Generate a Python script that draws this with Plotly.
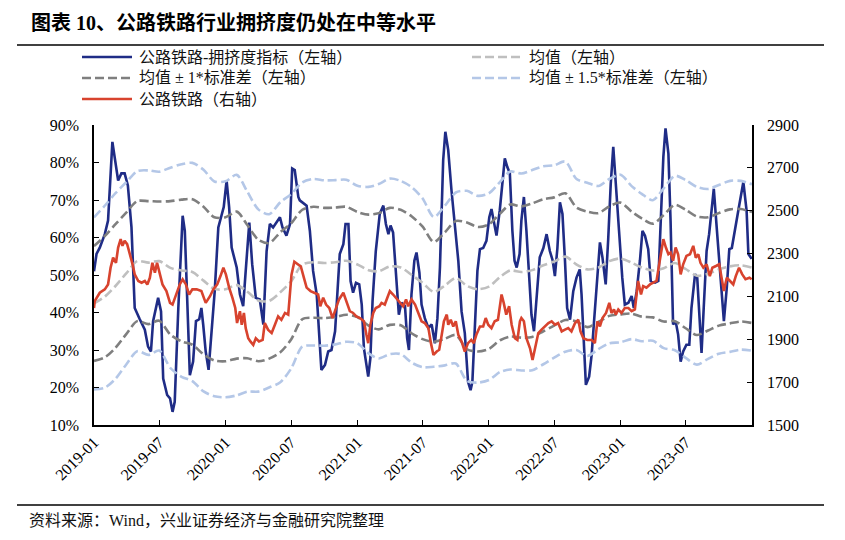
import pandas as pd
import plotly.graph_objects as go

# 公路铁路-拥挤度指标（左轴，%），按周
blue_dates = [
    "2019-01-01", "2019-01-08", "2019-01-17", "2019-01-31", "2019-02-09", "2019-02-21", "2019-03-09",
    "2019-03-18", "2019-03-27", "2019-04-05", "2019-04-15", "2019-04-24", "2019-05-08", "2019-05-22",
    "2019-05-31", "2019-06-08", "2019-06-14", "2019-06-22", "2019-06-28", "2019-07-06", "2019-07-12",
    "2019-07-23", "2019-07-31", "2019-08-07", "2019-08-13", "2019-08-23", "2019-08-29", "2019-09-04",
    "2019-09-10", "2019-09-17", "2019-09-24", "2019-10-03", "2019-10-11", "2019-10-20", "2019-10-26",
    "2019-10-31", "2019-11-07", "2019-11-15", "2019-11-23", "2019-12-02", "2019-12-12", "2019-12-21",
    "2019-12-27", "2020-01-04", "2020-01-11", "2020-01-18", "2020-02-01", "2020-02-10", "2020-02-19",
    "2020-02-26", "2020-03-07", "2020-03-15", "2020-03-25", "2020-04-05", "2020-04-15", "2020-04-24",
    "2020-05-03", "2020-05-12", "2020-05-22", "2020-05-31", "2020-06-07", "2020-06-18", "2020-06-28",
    "2020-07-04", "2020-07-11", "2020-07-21", "2020-07-25", "2020-08-13", "2020-08-22", "2020-08-31",
    "2020-09-10", "2020-09-17", "2020-09-23", "2020-10-03", "2020-10-12", "2020-10-21", "2020-10-31",
    "2020-11-09", "2020-11-13", "2020-11-23", "2020-11-29", "2020-12-07", "2020-12-13", "2020-12-20",
    "2020-12-28", "2021-01-06", "2021-01-13", "2021-01-19", "2021-01-25", "2021-01-31", "2021-02-06",
    "2021-02-12", "2021-02-21", "2021-03-04", "2021-03-14", "2021-03-21", "2021-03-28", "2021-04-03",
    "2021-04-10", "2021-04-20", "2021-04-26", "2021-05-03", "2021-05-13", "2021-05-19", "2021-05-24",
    "2021-05-31", "2021-06-08", "2021-06-14", "2021-06-22", "2021-06-28", "2021-07-07", "2021-07-17",
    "2021-07-26", "2021-08-04", "2021-08-11", "2021-08-18", "2021-08-27", "2021-09-02", "2021-09-10",
    "2021-09-19", "2021-09-29", "2021-10-08", "2021-10-17", "2021-10-26", "2021-11-04", "2021-11-11",
    "2021-11-16", "2021-11-23", "2021-11-30", "2021-12-07", "2021-12-16", "2021-12-25", "2022-01-02",
    "2022-01-08", "2022-01-15", "2022-01-22", "2022-01-31", "2022-02-08", "2022-02-14", "2022-02-21",
    "2022-02-28", "2022-03-07", "2022-03-13", "2022-03-19", "2022-03-27", "2022-04-01", "2022-04-08",
    "2022-04-15", "2022-04-23", "2022-04-29", "2022-05-06", "2022-05-13", "2022-05-22", "2022-06-01",
    "2022-06-10", "2022-06-19", "2022-06-27", "2022-07-03", "2022-07-10", "2022-07-17", "2022-07-24",
    "2022-07-31", "2022-08-06", "2022-08-14", "2022-08-23", "2022-09-01", "2022-09-10", "2022-09-15",
    "2022-09-20", "2022-09-27", "2022-10-06", "2022-10-13", "2022-10-19", "2022-10-29", "2022-11-05",
    "2022-11-12", "2022-11-21", "2022-11-28", "2022-12-05", "2022-12-12", "2022-12-19", "2022-12-28",
    "2023-01-06", "2023-01-13", "2023-01-23", "2023-02-01", "2023-02-07", "2023-02-15", "2023-02-24",
    "2023-03-03", "2023-03-10", "2023-03-19", "2023-03-26", "2023-04-07", "2023-04-16", "2023-04-22",
    "2023-04-30", "2023-05-06", "2023-05-14", "2023-05-20", "2023-05-27", "2023-06-03", "2023-06-10",
    "2023-06-17", "2023-06-24", "2023-07-03", "2023-07-11", "2023-07-17", "2023-07-27", "2023-08-02",
    "2023-08-09", "2023-08-14", "2023-08-20", "2023-08-28", "2023-09-04", "2023-09-11", "2023-09-17",
    "2023-09-25", "2023-10-04", "2023-10-15", "2023-10-23", "2023-10-30", "2023-11-06", "2023-11-15",
    "2023-11-24", "2023-12-08", "2023-12-17", "2023-12-22", "2023-12-31",
]
blue_values = [
    51.0, 55.6, 57.3, 60.9, 64.5, 85.5, 75.2,
    77.1, 77.1, 73.9, 62.7, 41.2, 38.2, 35.4,
    30.9, 29.6, 37.7, 41.2, 43.9, 40.3, 22.4,
    18.0, 17.1, 13.5, 16.2, 41.2, 52.9, 65.8,
    61.8, 44.8, 23.3, 26.9, 37.7, 38.2, 41.2,
    36.8, 29.6, 24.7, 34.1, 45.7, 62.7, 65.8,
    68.1, 75.2, 68.1, 57.3, 52.0, 44.8, 41.7,
    51.1, 64.0, 52.9, 43.9, 43.5, 36.8, 56.4,
    63.6, 62.7, 64.0, 65.4, 62.7, 60.5, 63.6,
    78.4, 78.0, 70.8, 69.9, 68.5, 61.8, 51.1,
    44.8, 34.1, 24.7, 26.0, 29.6, 30.0, 35.0,
    49.3, 55.6, 58.2, 63.6, 63.6, 48.4, 45.3,
    47.9, 47.5, 42.1, 30.5, 26.0, 22.9, 27.8,
    43.0, 56.4, 66.3, 68.5, 63.6, 60.9, 63.2,
    61.3, 48.4, 39.4, 42.6, 41.7, 33.2, 30.0,
    44.8, 53.8, 56.0, 50.6, 42.1, 38.5, 35.9,
    36.8, 31.8, 38.5, 52.0, 80.6, 88.2, 83.3,
    72.6, 62.7, 53.8, 40.3, 34.5, 21.5, 19.3,
    21.5, 38.5, 51.1, 56.9, 57.2, 59.1, 65.4,
    67.6, 63.6, 60.5, 67.2, 75.2, 81.1, 78.8,
    77.1, 61.8, 53.8, 52.0, 55.6, 64.5, 70.8,
    61.8, 48.4, 39.4, 35.0, 44.8, 54.7, 57.2,
    60.9, 56.4, 53.8, 49.7, 57.2, 69.4, 66.3,
    53.8, 41.2, 38.1, 45.7, 49.3, 51.5, 44.8,
    33.2, 20.7, 22.9, 28.7, 36.8, 48.4, 58.7,
    54.7, 47.5, 59.6, 74.3, 84.2, 75.2, 61.8,
    49.3, 42.1, 42.6, 44.4, 41.2, 45.7, 53.8,
    61.8, 60.5, 56.9, 48.4, 48.0, 48.4, 63.6,
    81.5, 89.1, 82.4, 64.5, 36.8, 37.7, 34.1,
    26.9, 29.6, 31.4, 31.4, 41.2, 50.2, 49.3,
    35.9, 29.2, 41.2, 56.4, 60.9, 67.2, 73.0,
    62.7, 52.0, 37.7, 46.6, 56.9, 57.2, 62.7,
    67.2, 74.8, 67.2, 55.6, 54.3,
]

# 公路铁路（右轴）
red_dates = [
    "2019-01-01", "2019-01-03", "2019-01-17", "2019-01-31", "2019-02-09", "2019-02-16", "2019-02-23",
    "2019-03-03", "2019-03-09", "2019-03-16", "2019-03-21", "2019-03-27", "2019-04-03", "2019-04-10",
    "2019-04-18", "2019-04-24", "2019-05-04", "2019-05-13", "2019-05-22", "2019-05-29", "2019-06-05",
    "2019-06-12", "2019-06-19", "2019-06-25", "2019-07-03", "2019-07-10", "2019-07-21", "2019-07-31",
    "2019-08-07", "2019-08-16", "2019-08-27", "2019-09-04", "2019-09-13", "2019-09-22", "2019-10-01",
    "2019-10-13", "2019-10-26", "2019-11-07", "2019-11-19", "2019-11-28", "2019-12-09", "2019-12-18",
    "2019-12-26", "2020-01-02", "2020-01-11", "2020-01-20", "2020-01-28", "2020-02-02", "2020-02-10",
    "2020-02-15", "2020-02-21", "2020-02-26", "2020-03-04", "2020-03-10", "2020-03-18", "2020-03-25",
    "2020-04-03", "2020-04-13", "2020-04-19", "2020-04-28", "2020-05-08", "2020-05-17", "2020-05-26",
    "2020-06-04", "2020-06-14", "2020-06-23", "2020-07-02", "2020-07-10", "2020-07-20", "2020-07-28",
    "2020-08-05", "2020-08-13", "2020-08-24", "2020-09-05", "2020-09-14", "2020-09-20", "2020-09-28",
    "2020-10-06", "2020-10-15", "2020-10-24", "2020-11-02", "2020-11-11", "2020-11-23", "2020-12-02",
    "2020-12-11", "2020-12-20", "2020-12-29", "2021-01-08", "2021-01-19", "2021-01-26", "2021-01-31",
    "2021-02-06", "2021-02-14", "2021-02-21", "2021-03-03", "2021-03-09", "2021-03-18", "2021-03-25",
    "2021-04-01", "2021-04-10", "2021-04-21", "2021-04-29", "2021-05-08", "2021-05-16", "2021-05-22",
    "2021-05-31", "2021-06-10", "2021-06-19", "2021-06-28", "2021-07-07", "2021-07-17", "2021-07-24",
    "2021-07-31", "2021-08-09", "2021-08-16", "2021-08-23", "2021-08-29", "2021-09-06", "2021-09-10",
    "2021-09-17", "2021-09-24", "2021-10-01", "2021-10-08", "2021-10-17", "2021-10-26", "2021-11-04",
    "2021-11-13", "2021-11-20", "2021-11-27", "2021-12-07", "2021-12-16", "2021-12-23", "2021-12-30",
    "2022-01-08", "2022-01-17", "2022-01-26", "2022-02-05", "2022-02-11", "2022-02-18", "2022-02-26",
    "2022-03-05", "2022-03-14", "2022-03-21", "2022-03-28", "2022-04-01", "2022-04-08", "2022-04-15",
    "2022-04-25", "2022-05-02", "2022-05-09", "2022-05-18", "2022-05-27", "2022-06-05", "2022-06-15",
    "2022-06-24", "2022-07-03", "2022-07-12", "2022-07-22", "2022-07-31", "2022-08-09", "2022-08-18",
    "2022-08-28", "2022-09-06", "2022-09-12", "2022-09-20", "2022-10-01", "2022-10-13", "2022-10-22",
    "2022-10-29", "2022-11-05", "2022-11-12", "2022-11-22", "2022-12-01", "2022-12-07", "2022-12-14",
    "2022-12-19", "2022-12-26", "2023-01-04", "2023-01-13", "2023-01-23", "2023-02-01", "2023-02-10",
    "2023-02-19", "2023-02-27", "2023-03-05", "2023-03-14", "2023-03-24", "2023-04-02", "2023-04-11",
    "2023-04-20", "2023-04-30", "2023-05-07", "2023-05-14", "2023-05-20", "2023-05-27", "2023-06-03",
    "2023-06-10", "2023-06-17", "2023-06-24", "2023-07-03", "2023-07-13", "2023-07-22", "2023-07-29",
    "2023-08-05", "2023-08-11", "2023-08-19", "2023-08-28", "2023-09-06", "2023-09-13", "2023-09-23",
    "2023-10-02", "2023-10-15", "2023-10-23", "2023-11-01", "2023-11-10", "2023-11-17", "2023-11-26",
    "2023-12-05", "2023-12-14", "2023-12-25", "2023-12-31",
]
red_values = [
    2046, 2078, 2117, 2133, 2156, 2234, 2281,
    2257, 2328, 2367, 2336, 2360, 2344, 2305,
    2250, 2203, 2172, 2164, 2172, 2156, 2187,
    2257, 2211, 2257, 2195, 2156, 2125, 2070,
    2062, 2109, 2156, 2180, 2156, 2109, 2133,
    2133, 2125, 2070, 2101, 2133, 2156, 2195,
    2234, 2203, 2141, 2094, 2046, 1976, 2031,
    1968, 2023, 1952, 1905, 1890, 1874, 1905,
    1890, 1897, 1976, 1945, 1929, 1968, 2007,
    1991, 2023, 2015, 2200, 2262, 2250, 2240,
    2190, 2141, 2125, 2117, 2109, 2054, 2094,
    2062, 2046, 1999, 2046, 2086, 2117, 2070,
    2031, 2023, 2007, 1999, 1984, 1921, 1882,
    1968, 2023, 2046, 2054, 2070, 2062, 2094,
    2125, 2109, 2086, 2070, 2054, 2086, 2054,
    2086, 2062, 2023, 1984, 1976, 1952, 1882,
    1827, 1843, 1851, 1921, 1984, 2015, 1968,
    1991, 1960, 1984, 1921, 1890, 1843, 1882,
    1897, 1882, 1921, 1960, 1960, 1999, 1968,
    1952, 1984, 1991, 2109, 2070, 2015, 2054,
    1968, 1905, 1897, 1984, 1999, 1984, 1905,
    1858, 1804, 1858, 1929, 1945, 1960, 1976,
    1984, 1968, 1976, 1937, 1945, 1952, 1937,
    1976, 1991, 1937, 1905, 1897, 1897, 1882,
    1984, 1960, 1999, 2023, 2070, 2023, 2039,
    2015, 2039, 2023, 2046, 2046, 2031, 2039,
    2172, 2109, 2148, 2141, 2156, 2164, 2172,
    2266, 2367, 2328, 2297, 2305, 2266, 2328,
    2297, 2203, 2250, 2289, 2297, 2336, 2281,
    2297, 2257, 2234, 2250, 2195, 2234, 2242,
    2250, 2125, 2187, 2172, 2156, 2195, 2234,
    2203, 2180, 2187, 2180,
]

# 均值与标准差（左轴，%），按月
band_months = pd.date_range("2019-01-01", "2024-01-01", freq="MS")
mean_values = [
    42.4, 44.3, 47.0, 50.5, 53.7, 53.3, 53.7, 51.9, 51.2, 50.8, 48.5, 46.3,
    46.2, 47.3, 45.6, 43.2, 43.1, 45.4, 48.3, 52.8, 53.4, 53.2, 53.4, 53.8,
    52.8, 51.3, 51.0, 52.3, 52.0, 50.0, 47.9, 45.5, 47.2, 49.2, 47.1, 46.2,
    46.9, 49.5, 51.2, 50.8, 51.3, 52.6, 53.6, 54.9, 52.8, 51.5, 52.0, 53.7,
    54.4, 53.3, 52.0, 51.2, 51.8, 53.2, 51.6, 49.8, 50.3, 51.5, 52.3, 52.6,
    52.0,
]
std_values = [
    15.3, 16.2, 16.5, 16.2, 16.0, 16.4, 15.9, 17.8, 18.9, 19.4, 19.7, 19.1,
    19.2, 19.6, 17.8, 16.2, 15.4, 16.0, 15.5, 14.6, 14.8, 14.7, 14.6, 14.4,
    14.0, 14.8, 15.5, 15.6, 15.4, 15.6, 15.0, 13.3, 14.2, 15.2, 16.9, 16.6,
    16.6, 16.9, 17.6, 17.5, 17.8, 17.6, 17.1, 16.9, 15.2, 15.4, 14.5, 14.6,
    14.9, 13.6, 13.1, 12.5, 14.2, 15.5, 15.8, 15.8, 15.1, 15.0, 15.2, 15.0,
    14.8,
]

tick_dates = pd.date_range("2019-01-01", "2023-07-01", freq="6MS")
tick_labels = [d.strftime("%Y-%m") for d in tick_dates]

legend_names = [
    "公路铁路-拥挤度指标（左轴）", "均值（左轴）",
    "均值 ± 1*标准差（左轴）", "均值 ± 1.5*标准差（左轴）",
    "公路铁路（右轴）",
]

BLUE = "#1F2C86"
RED = "#D8432E"
MEAN_GRAY = "#BFBFBF"
DARK_GRAY = "#7F7F7F"
LIGHT_BLUE = "#B4C7E7"
DASH = "9px,4px"
FONT = "Liberation Serif, Noto Sans CJK SC"

mean_s = pd.Series(mean_values, index=band_months)
std_s = pd.Series(std_values, index=band_months)

fig = go.Figure()

fig.add_trace(go.Scatter(x=pd.to_datetime(blue_dates), y=blue_values, mode="lines",
                         line=dict(color=BLUE, width=2.6), name=legend_names[0]))

for k, color in [(1.5, LIGHT_BLUE), (1.0, DARK_GRAY)]:
    for sign in (1, -1):
        fig.add_trace(go.Scatter(x=band_months, y=mean_s + sign * k * std_s, mode="lines",
                                 line=dict(color=color, width=2.6, dash=DASH,
                                           shape="spline", smoothing=0.8)))

fig.add_trace(go.Scatter(x=band_months, y=mean_s, mode="lines",
                         line=dict(color=MEAN_GRAY, width=2.6, dash=DASH,
                                   shape="spline", smoothing=0.8)))

fig.add_trace(go.Scatter(x=pd.to_datetime(red_dates), y=red_values, mode="lines",
                         line=dict(color=RED, width=2.6), yaxis="y2", name=legend_names[4]))

# page has an 8px body margin, so the figure is 8px smaller than the window
W, H = 837, 532
# plot area in page pixels: x 94..752, y 125..425
L, R, T, B = 94, 752, 125, 425


def px(x):
    return (x - L) / (R - L)


def py(y):
    return (B - y) / (B - T)


# legend drawn by hand in two columns
legend_items = [
    (82, 57, BLUE, "solid", legend_names[0]),
    (472, 57, MEAN_GRAY, DASH, legend_names[1]),
    (82, 78, DARK_GRAY, DASH, legend_names[2]),
    (472, 78, LIGHT_BLUE, DASH, legend_names[3]),
    (82, 99, RED, "solid", legend_names[4]),
]
for x0, y0, color, dash, name in legend_items:
    fig.add_shape(type="line", xref="paper", yref="paper",
                  x0=px(x0), x1=px(x0 + 50), y0=py(y0), y1=py(y0),
                  line=dict(color=color, width=2.6, dash=dash))
    fig.add_annotation(xref="paper", yref="paper", x=px(x0 + 55), y=py(y0),
                       xanchor="left", yanchor="middle", showarrow=False,
                       text=name, font=dict(family=FONT, size=16, color="#111"))

# title, rules and source
fig.add_annotation(xref="paper", yref="paper", x=px(29), y=py(23), xanchor="left", yanchor="middle",
                   showarrow=False, text="<b>图表 10、公路铁路行业拥挤度仍处在中等水平</b>",
                   font=dict(family=FONT, size=20, color="#000"))
for yy in (45, 505):
    fig.add_shape(type="line", xref="paper", yref="paper", x0=px(17), x1=px(824),
                  y0=py(yy), y1=py(yy), line=dict(color="#000", width=1.3))
fig.add_annotation(xref="paper", yref="paper", x=px(27), y=py(520), xanchor="left", yanchor="middle",
                   showarrow=False, text="资料来源：Wind，兴业证券经济与金融研究院整理",
                   font=dict(family=FONT, size=16, color="#111"))

axis_common = dict(showline=True, linecolor="#000", linewidth=1.5, ticks="inside", ticklen=5,
                   tickcolor="#000", tickwidth=1.3, showgrid=False, zeroline=False,
                   tickfont=dict(family=FONT, size=16, color="#000"))

fig.update_layout(
    width=W, height=H,
    margin=dict(l=L - 8, r=W - (R - 8), t=T - 8, b=H - (B - 8), pad=0),
    paper_bgcolor="white", plot_bgcolor="white",
    showlegend=False,
    xaxis=dict(type="date", range=["2019-01-01", "2024-01-01"], tickvals=tick_dates,
               ticktext=tick_labels, tickangle=-45, **axis_common),
    yaxis=dict(range=[10, 90], dtick=10, tick0=10, ticksuffix="%", ticklabelstandoff=10,
               **axis_common),
    yaxis2=dict(range=[1500, 2900], dtick=200, tick0=1500, overlaying="y", side="right",
                ticklabelstandoff=10, **axis_common),
)

fig.write_html("out.html")
